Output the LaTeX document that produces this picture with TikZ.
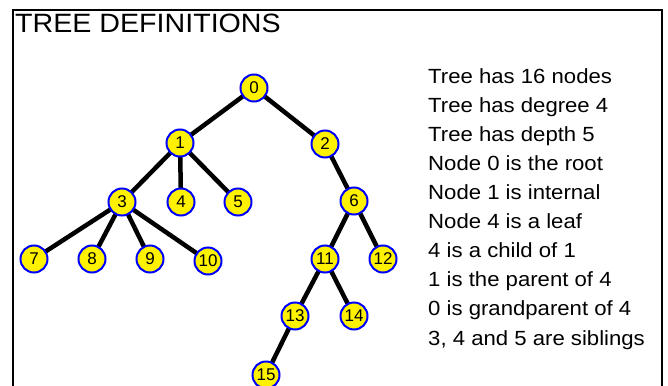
\documentclass[tikz,border=0pt]{standalone}
\usepackage{fontspec}
\usetikzlibrary{backgrounds}
\setmainfont{Liberation Sans}
\newfontfamily\widesans[FakeStretch=1.08]{Liberation Sans}
\tikzset{
  tnode/.style={circle, draw=blue, fill=yellow, line width=2pt,
    minimum size=27pt, inner sep=0pt, font=\fontsize{17}{17}\selectfont},
  tedge/.style={line width=4.5pt, black},
  factline/.style={anchor=base west, inner sep=0pt,
    font=\widesans\fontsize{20.5}{20.5}\selectfont},
}
\begin{document}
\begin{tikzpicture}[x=1pt, y=-1pt]
  \useasboundingbox (0,0) rectangle (668,385);
  % outer frame, open at the bottom
  \draw[line width=2pt] (13,400) -- (13,10.5) -- (662,10.5) -- (662,400);
  \node[anchor=base west, inner sep=0pt,
    font=\widesans\fontsize{26.5}{26.5}\selectfont] (title) at (15,33) {TREE DEFINITIONS};

  % tree nodes
  \node[tnode] (n0)  at (254, 88) {0};
  \node[tnode] (n1)  at (180,143) {1};
  \node[tnode] (n2)  at (325,144) {2};
  \node[tnode] (n3)  at (122,202) {3};
  \node[tnode] (n4)  at (181,202) {4};
  \node[tnode] (n5)  at (238,202) {5};
  \node[tnode] (n6)  at (354,201) {6};
  \node[tnode] (n7)  at ( 34,259) {7};
  \node[tnode] (n8)  at ( 92,259) {8};
  \node[tnode] (n9)  at (150,259) {9};
  \node[tnode] (n10) at (208,261) {10};
  \node[tnode] (n11) at (325,259) {11};
  \node[tnode] (n12) at (383,259) {12};
  \node[tnode] (n13) at (295,316) {13};
  \node[tnode] (n14) at (354,316) {14};
  \node[tnode] (n15) at (266,375) {15};

  % edges, kept behind the nodes
  \begin{scope}[on background layer]
    \foreach \a/\b in {n0/n1, n0/n2, n1/n3, n1/n4, n1/n5, n2/n6,
                       n3/n7, n3/n8, n3/n9, n3/n10, n6/n11, n6/n12,
                       n11/n13, n11/n14, n13/n15}
      \draw[tedge] (\a.center) -- (\b.center);
  \end{scope}

  % facts about the tree
  \node[factline] (f1)  at (428, 83.3) {Tree has 16 nodes};
  \node[factline] (f2)  at (428,112.4) {Tree has degree 4};
  \node[factline] (f3)  at (428,141.5) {Tree has depth 5};
  \node[factline] (f4)  at (428,170.6) {Node 0 is the root};
  \node[factline] (f5)  at (428,199.6) {Node 1 is internal};
  \node[factline] (f6)  at (428,228.7) {Node 4 is a leaf};
  \node[factline] (f7)  at (428,257.8) {4 is a child of 1};
  \node[factline] (f8)  at (428,286.9) {1 is the parent of 4};
  \node[factline] (f9)  at (428,315.9) {0 is grandparent of 4};
  \node[factline] (f10) at (428,345.0) {3, 4 and 5 are siblings};
\end{tikzpicture}
\end{document}
